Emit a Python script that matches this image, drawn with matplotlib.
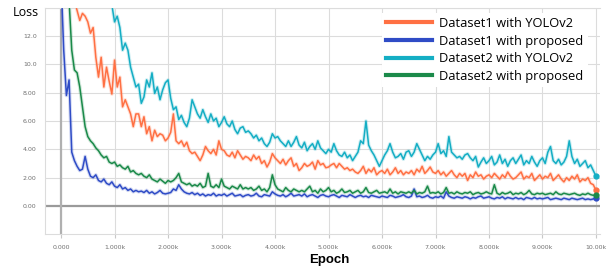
import numpy as np
import matplotlib
matplotlib.use("Agg")
import matplotlib.pyplot as plt
from matplotlib.ticker import FuncFormatter

# training steps, one reading every 50 epochs
epochs = list(range(0, 10001, 50))

# Dataset1 with YOLOv2 (orange)
d1_yolo = [
    22, 20, 18, 16, 15, 14.5, 13.8, 13.1, 13.6, 13.4,
    13.0, 12.2, 12.6, 10.5, 9.1, 10.5, 8.4, 9.8, 8.8, 7.9,
    10.3, 8.4, 9.1, 7.0, 7.5, 7.0, 6.5, 5.6, 6.5, 6.5,
    5.6, 6.3, 5.1, 5.6, 4.6, 5.35, 4.9, 5.1, 5.0, 4.6,
    4.8, 5.2, 6.5, 4.6, 4.4, 4.6, 4.2, 4.5, 3.9, 3.7,
    3.8, 3.5, 3.2, 3.6, 4.2, 3.9, 3.7, 4.0, 3.6, 4.6,
    4.0, 3.9, 3.6, 3.5, 3.8, 3.4, 3.9, 3.6, 3.3, 3.5,
    3.4, 3.2, 3.6, 3.3, 3.5, 3.0, 3.2, 2.75, 3.1, 3.7,
    3.4, 3.2, 3.0, 3.3, 2.9, 3.2, 3.4, 2.8, 3.0, 2.5,
    2.7, 3.0, 2.8, 2.9, 3.1, 2.6, 3.2, 2.9, 3.0, 2.7,
    2.75, 2.9, 3.0, 2.7, 3.0, 2.8, 2.6, 2.7, 2.5, 2.6,
    2.4, 2.3, 2.5, 2.8, 2.3, 2.6, 2.4, 2.7, 2.2, 2.4,
    2.5, 2.3, 2.6, 2.2, 2.4, 2.7, 2.3, 2.5, 2.2, 2.4,
    2.3, 2.5, 2.2, 2.6, 2.4, 2.8, 2.3, 2.5, 2.75, 2.4,
    2.3, 2.5, 2.2, 2.4, 2.1, 2.3, 2.5, 2.2, 2.0, 2.3,
    2.1, 2.3, 1.8, 2.2, 2.0, 2.4, 2.1, 2.2, 1.9, 2.1,
    2.2, 2.0, 2.3, 2.1, 1.9, 2.2, 2.0, 2.4, 2.1, 1.9,
    2.0, 2.2, 2.4, 1.9, 2.1, 2.0, 2.3, 1.8, 2.0, 2.2,
    1.9, 2.1, 2.0, 2.3, 1.8, 2.0, 2.2, 1.9, 1.7, 2.0,
    1.8, 2.1, 1.9, 2.2, 1.7, 1.9, 1.8, 2.0, 1.6, 1.5,
    1.1,
]

# Dataset1 with proposed (blue)
d1_prop = [
    16.0, 11.0, 7.8, 8.9, 3.8, 3.2, 2.8, 2.5, 2.6, 3.5,
    2.6, 2.1, 2.0, 2.2, 1.8, 1.7, 1.9, 1.6, 1.5, 1.7,
    1.4, 1.3, 1.5, 1.2, 1.3, 1.1, 1.2, 1.0, 1.1, 1.0,
    1.05, 0.95, 1.1, 0.9, 1.0, 0.85, 0.95, 1.1, 0.9, 0.85,
    0.9, 0.95, 1.2, 1.1, 1.5, 1.2, 1.0, 0.9, 0.85, 0.95,
    0.8, 0.9, 0.75, 0.85, 0.7, 0.8, 0.75, 0.9, 0.7, 0.8,
    0.75, 0.85, 0.7, 0.8, 0.9, 0.7, 0.75, 0.8, 0.65, 0.75,
    0.8, 0.7, 0.75, 0.9, 0.7, 0.65, 0.8, 0.75, 0.7, 1.0,
    0.85, 0.75, 0.7, 0.8, 0.65, 0.75, 0.9, 0.7, 0.75, 0.8,
    0.7, 0.85, 0.65, 0.75, 0.8, 0.7, 0.6, 0.75, 0.8, 0.7,
    0.65, 0.75, 0.8, 0.7, 0.6, 0.75, 0.7, 0.65, 0.8, 0.7,
    0.6, 0.7, 0.75, 0.65, 0.7, 0.6, 0.75, 0.7, 0.65, 0.6,
    0.7, 0.65, 0.6, 0.75, 0.7, 0.6, 0.65, 0.7, 0.8, 0.65,
    0.6, 0.7, 1.2, 0.65, 0.7, 0.6, 0.65, 0.75, 0.6, 0.55,
    0.65, 0.6, 0.7, 0.55, 1.0, 0.7, 0.6, 0.55, 0.65, 0.6,
    0.55, 0.65, 0.6, 0.5, 0.6, 0.55, 0.65, 0.7, 0.55, 0.6,
    0.65, 0.55, 0.5, 0.6, 0.55, 0.65, 0.5, 0.6, 0.55, 0.5,
    0.6, 0.5, 0.55, 0.45, 0.6, 0.55, 0.5, 0.6, 0.5, 0.55,
    0.5, 0.55, 0.6, 0.45, 0.5, 0.55, 0.5, 0.45, 0.55, 0.5,
    0.45, 0.55, 0.5, 0.45, 0.5, 0.55, 0.45, 0.5, 0.45, 0.5,
    0.55,
]

# Dataset2 with YOLOv2 (cyan)
d2_yolo = [
    30, 30, 30, 30, 30, 30, 30, 28, 26, 24,
    22, 20, 19, 18, 17, 16, 15.5, 15, 14.5, 14.2,
    13.0, 13.4, 12.6, 11.0, 11.5, 11.0, 9.8, 9.1, 8.4, 8.6,
    7.25, 7.7, 8.9, 8.4, 9.4, 7.95, 8.4, 7.5, 8.2, 8.7,
    8.9, 7.6, 6.8, 7.0, 6.1, 6.4, 5.9, 5.6, 6.2, 7.5,
    7.0, 6.5, 6.2, 6.8, 6.3, 5.9, 6.5, 6.0, 6.2, 5.6,
    5.9, 6.3, 5.8, 5.6, 6.0, 5.4, 5.1, 5.5, 5.6, 5.2,
    5.3, 5.1, 4.8, 5.0, 4.6, 4.8, 4.4, 4.2, 4.5, 5.1,
    4.8, 4.9, 4.6, 4.4, 4.2, 4.6, 4.2, 4.5, 4.9, 4.3,
    4.1, 4.5, 3.9, 4.2, 4.4, 4.0, 4.6, 4.1, 3.9, 3.7,
    4.0, 3.8, 4.4, 3.9, 3.6, 3.5, 3.8, 3.4, 3.6, 3.2,
    3.5, 3.8, 4.6, 4.4, 6.0, 4.3, 3.9, 3.6, 3.2, 2.8,
    3.2, 3.6, 3.9, 4.4, 3.8, 3.4, 3.5, 3.7, 3.3, 3.8,
    3.9, 3.5, 3.8, 4.4, 4.0, 3.6, 3.2, 3.5, 3.3, 3.6,
    3.8, 4.4, 3.7, 3.9, 3.5, 4.9, 3.8, 3.6, 3.4, 3.5,
    3.3, 3.6, 3.7, 3.4, 3.2, 3.5, 2.75, 3.1, 3.4, 3.0,
    3.2, 3.5, 2.9, 3.1, 3.6, 3.0, 3.3, 2.8, 3.2, 3.4,
    3.0, 3.3, 3.6, 2.9, 3.2, 3.0, 3.5, 3.1, 2.8, 3.2,
    3.4, 3.0, 3.8, 4.2, 3.2, 3.0, 3.3, 2.9, 3.1, 3.5,
    4.6, 3.5, 3.0, 3.3, 2.8, 3.0, 3.2, 2.7, 2.9, 2.5,
    2.1,
]

# Dataset2 with proposed (green)
d2_prop = [
    30, 25, 20, 14.5, 11.0, 9.6, 9.4, 8.4, 7.0, 5.6,
    4.9, 4.6, 4.4, 4.1, 3.9, 3.6, 3.4, 3.5, 3.1, 3.0,
    3.1, 2.8, 2.9, 2.7, 2.6, 2.8, 2.4, 2.5, 2.3, 2.2,
    2.3, 2.1, 2.0, 2.2, 1.9, 1.8, 1.7, 1.9, 1.75, 1.6,
    1.8, 1.7, 1.8, 2.0, 2.3, 1.7, 1.6, 1.5, 1.6, 1.4,
    1.5, 1.4, 1.6, 1.3, 1.4, 2.3, 1.4, 1.3, 1.5, 1.3,
    1.9, 1.4, 1.3, 1.2, 1.4, 1.3, 1.2, 1.5, 1.2, 1.3,
    1.2, 1.3, 1.1, 1.2, 1.4, 1.1, 1.2, 1.0, 1.3, 2.2,
    1.5, 1.2, 1.1, 1.0, 1.3, 1.1, 1.0, 1.2, 1.1, 1.0,
    1.1, 1.0, 1.2, 1.4, 1.0, 1.1, 0.9, 1.2, 1.0, 1.1,
    1.3, 1.0, 1.1, 0.9, 1.0, 1.2, 0.95, 1.0, 1.1, 0.9,
    1.0, 1.1, 0.9, 1.0, 1.3, 0.95, 0.9, 1.0, 1.1, 0.9,
    0.95, 1.0, 0.9, 1.2, 0.9, 1.0, 0.85, 1.0, 0.95, 0.9,
    1.0, 0.9, 1.1, 0.85, 0.95, 0.9, 1.0, 1.4, 0.9, 0.95,
    0.9, 1.0, 0.85, 0.95, 1.3, 0.9, 0.95, 0.85, 1.0, 0.9,
    0.85, 0.95, 0.9, 1.0, 0.8, 0.9, 0.95, 0.85, 0.9, 1.0,
    0.9, 0.85, 1.5, 0.9, 0.8, 0.95, 0.85, 0.9, 1.0, 0.8,
    0.9, 0.85, 0.95, 0.8, 0.9, 1.1, 0.85, 0.8, 0.9, 0.85,
    0.9, 0.8, 0.85, 0.9, 0.8, 1.0, 0.85, 0.8, 0.9, 0.85,
    0.8, 0.85, 0.9, 0.8, 0.75, 0.85, 0.8, 0.9, 0.8, 0.75,
    0.8,
]

labels = ["Dataset1 with YOLOv2", "Dataset1 with proposed",
          "Dataset2 with YOLOv2", "Dataset2 with proposed"]
colors = ["#ff7043", "#2f4cc6", "#14aec4", "#1b8a4a"]
series = [d1_yolo, d1_prop, d2_yolo, d2_prop]

fig = plt.figure(figsize=(6.10, 2.73), dpi=100)
ax = fig.add_axes([45 / 610, 1 - 234.3 / 273, 555 / 610, (234.3 - 7.7) / 273])

grid_c = "#dcdcdc"
for xt in range(0, 10001, 1000):
    ax.axvline(xt, color=grid_c, lw=0.8, zorder=0)
for yt in range(2, 15, 2):
    ax.axhline(yt, color=grid_c, lw=0.8, zorder=0)
ax.axhline(0, color="#9a9a9a", lw=1.6, zorder=1)
ax.axvline(0, color="#b0b0b0", lw=1.6, zorder=1)

# faint raw layer first, then the smoothed lines
for vals, c in zip(series, colors):
    ax.plot(epochs, vals, color=c, lw=2.6, alpha=0.2, zorder=2)
for vals, c, lab in zip(series, colors, labels):
    ax.plot(epochs, vals, color=c, lw=1.1, zorder=3, label=lab)
    ax.plot(epochs[-1], vals[-1], "o", color=c, ms=3.5, zorder=4)

ax.set_xlim(-300, 10075)
ax.set_ylim(-2, 14)
ax.set_xticks(range(0, 10001, 1000))
ax.set_yticks(range(0, 13, 2))
ax.xaxis.set_major_formatter(FuncFormatter(
    lambda v, p: "0.000" if v == 0 else ("10.00k" if v >= 10000 else f"{v/1000:.3f}k")))
ax.yaxis.set_major_formatter(FuncFormatter(
    lambda v, p: f"{v:.1f}" if v >= 10 else f"{v:.2f}"))
ax.tick_params(axis="x", labelsize=4.5, labelcolor="#707070", color="#c8c8c8",
               length=3, width=0.8, pad=5)
ax.tick_params(axis="y", labelsize=4.5, labelcolor="#707070", length=0, pad=6)

for side in ["left", "bottom", "top"]:
    ax.spines[side].set_color(grid_c)
    ax.spines[side].set_linewidth(0.8)
ax.spines["right"].set_visible(False)

fig.text(13 / 610, 1 - 13 / 273, "Loss", fontsize=9, va="center", ha="left",
         family="Open Sans")
fig.text(329 / 610, 1 - 260 / 273, "Epoch", fontsize=9.5, fontweight="bold",
         va="center", ha="center", family="Liberation Sans")

leg = ax.legend(loc="upper left", bbox_to_anchor=(382 / 610, 1 - 13 / 273),
                bbox_transform=fig.transFigure, frameon=True, facecolor="white",
                edgecolor="none", framealpha=1, fancybox=False,
                prop={"family": "Open Sans", "size": 9.3}, handlelength=3.6,
                handletextpad=0.55, labelspacing=0.36, borderpad=0.3,
                borderaxespad=0)
for h in leg.get_lines():
    h.set_linewidth(3)
leg.set_zorder(10)

fig.savefig("out.png", dpi=100)
